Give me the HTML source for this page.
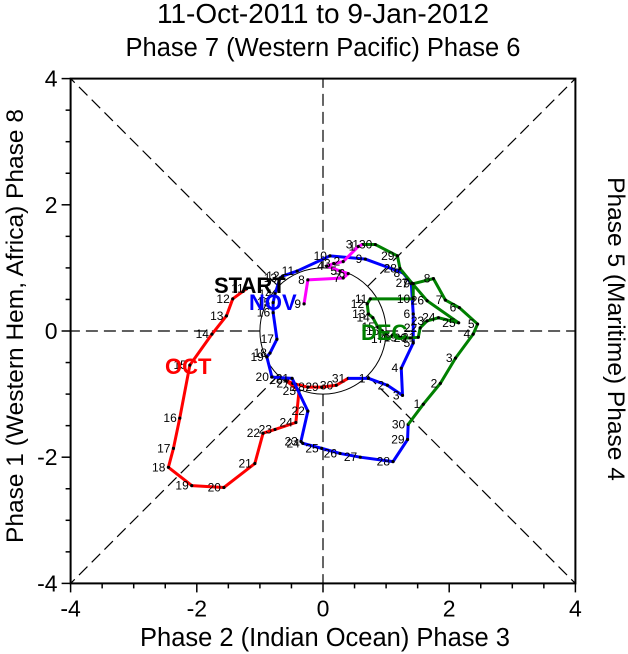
<!DOCTYPE html>
<html><head><meta charset="utf-8"><style>
html,body{margin:0;padding:0;background:#fff;}
svg{display:block;font-family:"Liberation Sans",sans-serif;}
</style></head><body>
<svg id="chart" width="628" height="654" viewBox="0 0 628 654" xmlns="http://www.w3.org/2000/svg">
<text x="323" y="23" font-size="28" text-anchor="middle">11-Oct-2011 to 9-Jan-2012</text>
<text x="323" y="56" font-size="25.5" text-anchor="middle">Phase 7 (Western Pacific) Phase 6</text>
<text x="325" y="646" font-size="25.5" text-anchor="middle">Phase 2 (Indian Ocean) Phase 3</text>
<text transform="translate(23,326) rotate(-90)" font-size="24.5" text-anchor="middle">Phase 1 (Western Hem, Africa) Phase 8</text>
<text transform="translate(608,329) rotate(90)" font-size="24.5" text-anchor="middle">Phase 5 (Maritime) Phase 4</text>
<g id="axes"></g>
<g id="series"></g>
</svg>
<script>
const ticks=[-4,-2,0,2,4];
const tickLabels=["-4","-2","0","2","4"];
const octDays=[11,12,13,14,15,16,17,18,19,20,21,22,23,24,25,26,27,28,29,30,31];
const octX=[-1.21,-1.43,-1.53,-1.76,-2.11,-2.27,-2.37,-2.45,-2.08,-1.57,-1.08,-0.95,-0.76,-0.43,-0.38,-0.59,-0.48,-0.24,-0.02,0.21,0.40];
const octY=[0.67,0.51,0.24,-0.05,-0.54,-1.38,-1.86,-2.16,-2.45,-2.48,-2.10,-1.62,-1.56,-1.45,-0.95,-0.78,-0.83,-0.89,-0.89,-0.86,-0.75];
const novDays=[1,2,3,4,5,6,7,8,9,10,11,12,13,14,15,16,17,18,19,20,21,22,23,24,25,26,27,28,29,30];
const novX=[0.72,1.02,1.26,1.24,1.43,1.43,1.40,1.27,0.67,0.11,-0.41,-0.64,-0.68,-0.76,-0.79,-0.79,-0.73,-0.84,-0.89,-0.81,-0.49,-0.24,-0.35,-0.32,-0.02,0.27,0.59,1.11,1.34,1.35];
const novY=[-0.75,-0.86,-1.02,-0.59,-0.19,0.27,0.75,0.92,1.14,1.19,0.95,0.87,0.84,0.59,0.45,0.29,-0.13,-0.35,-0.41,-0.73,-0.75,-1.27,-1.75,-1.78,-1.86,-1.94,-2.00,-2.07,-1.72,-1.48];
const decDays=[1,2,3,4,5,6,7,8,9,10,11,12,13,14,15,16,17,18,19,20,21,22,23,24,25,26,27,28,29,30,31];
const decX=[1.59,1.86,2.10,2.38,2.45,2.16,1.94,1.75,1.43,1.43,0.75,0.70,0.72,0.79,0.87,0.94,1.02,1.11,1.22,1.38,1.51,1.54,1.65,1.83,2.15,1.65,1.41,1.22,1.18,0.83,0.62];
const decY=[-1.16,-0.83,-0.43,-0.05,0.11,0.37,0.49,0.83,0.75,0.51,0.51,0.43,0.27,0.21,0.06,0.00,-0.13,-0.06,-0.10,-0.11,-0.10,0.05,0.16,0.21,0.13,0.48,0.76,0.99,1.19,1.37,1.37];
const janDays=[1,2,3,4,5,6,7,8,9];
const janX=[0.56,0.32,0.17,0.06,0.27,0.40,0.32,-0.24,-0.30];
const janY=[1.34,1.10,1.07,1.03,0.95,0.91,0.84,0.81,0.43];

const NS="http://www.w3.org/2000/svg";
const CX=323,CY=331,S=63.1;
const sx=v=>CX+v*S, sy=v=>CY-v*S;
function mk(tag,attrs,parent,txt){const e=document.createElementNS(NS,tag);for(const k in attrs)e.setAttribute(k,attrs[k]);if(txt!==undefined)e.textContent=txt;parent.appendChild(e);return e;}
const ax=document.getElementById('axes');
let fr=mk('rect',{x:sx(-4),y:sy(4),width:8*S,height:8*S,fill:'none',stroke:'#000','stroke-width':2},ax);


const dirs=[[1,0],[-1,0],[0,1],[0,-1],[1,1],[1,-1],[-1,1],[-1,-1]];
dirs.forEach(d=>{
  const n=Math.hypot(d[0],d[1]);
  const l=mk('line',{x1:sx(d[0]/n),y1:sy(d[1]/n),x2:sx(d[0]*4),y2:sy(d[1]*4),stroke:'#000','stroke-width':1.2,'stroke-dasharray':'12,6'},ax);
  
  
});
let c=mk('circle',{cx:CX,cy:CY,r:S,fill:'none',stroke:'#000','stroke-width':1},ax);


for(let v=-4;v<=4.001;v+=0.5){
  const major=Math.abs(v%2)<1e-6;const L=major?9:5;
  let t=mk('line',{x1:sx(v),y1:sy(-4),x2:sx(v),y2:sy(-4)+L,stroke:'#000','stroke-width':1.5},ax);
  
  
  let t2=mk('line',{x1:sx(-4),y1:sy(v),x2:sx(-4)-L,y2:sy(v),stroke:'#000','stroke-width':1.5},ax);
  
  
}
ticks.forEach((v,i)=>{
  let a=mk('text',{x:sx(v),y:sy(-4)+33,'font-size':23,'text-anchor':'middle'},ax,tickLabels[i]);
  
  
  let b=mk('text',{x:sx(-4)-13,y:sy(v)+8,'font-size':23,'text-anchor':'end'},ax,tickLabels[i]);
  
  
});
const sg=document.getElementById('series');
function series(name,days,xs,ys,color,prev){
  const g=mk('g',{},sg);
  
  
  let pts=xs.map((x,i)=>sx(x)+','+sy(ys[i]));
  if(prev)pts.unshift(sx(prev[0])+','+sy(prev[1]));
  const pl=mk('polyline',{points:pts.join(' '),fill:'none',stroke:color,'stroke-width':3,'stroke-linejoin':'round'},g);
  
  
  xs.forEach((x,i)=>{
    const d=mk('circle',{cx:sx(x),cy:sy(ys[i]),r:1.6,fill:'#000'},g);
    
    
    const t=mk('text',{x:sx(x)-3,y:sy(ys[i])+4,'font-size':12,'text-anchor':'end'},g,days[i]);
    
    
  });
}
series('oct',octDays,octX,octY,'#ff0000',null);
series('nov',novDays,novX,novY,'#0000ff',[octX[octX.length-1],octY[octY.length-1]]);
series('dec',decDays,decX,decY,'#008000',[novX[novX.length-1],novY[novY.length-1]]);
series('jan',janDays,janX,janY,'#ff00ff',[decX[decX.length-1],decY[decY.length-1]]);
const labels=[["START",214,293,'#000','start-label'],["NOV",249,310,'#0000ff','nov-label'],["OCT",165,374,'#ff0000','oct-label'],["DEC",361,340,'#008000','dec-label']];
labels.forEach(l=>{
  const t=mk('text',{x:l[1],y:l[2],'font-size':22,'font-weight':'bold',fill:l[3]},sg,l[0]);
  
  
});
</script>
</body></html>
